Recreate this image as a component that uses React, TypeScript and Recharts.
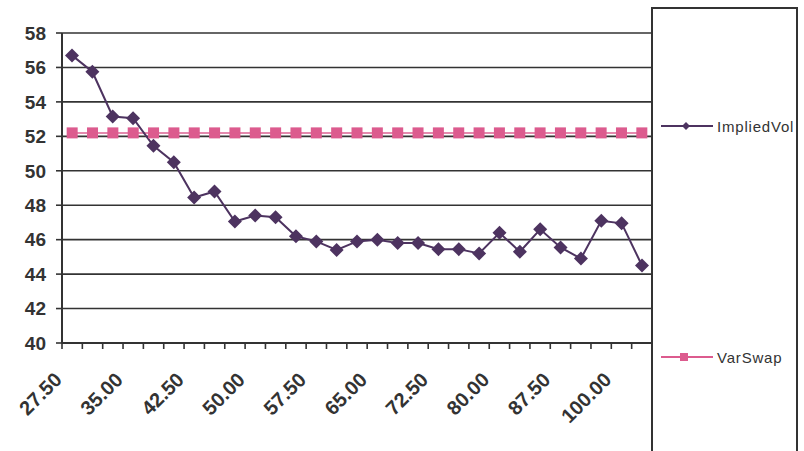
import { CartesianGrid, Line, LineChart, XAxis, YAxis } from "recharts";

const strikes = [
  "27.50", "30.00", "32.50", "35.00", "37.50", "40.00", "42.50", "45.00", "47.50", "50.00",
  "52.50", "55.00", "57.50", "60.00", "62.50", "65.00", "67.50", "70.00", "72.50", "75.00",
  "77.50", "80.00", "82.50", "85.00", "87.50", "90.00", "95.00", "100.00", "105.00",
];

const impliedVol = [
  56.7, 55.75, 53.15, 53.05, 51.45, 50.5, 48.45, 48.8, 47.05, 47.4,
  47.3, 46.2, 45.9, 45.4, 45.9, 46.0, 45.8, 45.8, 45.45, 45.45,
  45.2, 46.4, 45.3, 46.6, 45.55, 44.9, 47.1, 46.95, 44.5,
];

const varSwap = [
  52.2, 52.2, 52.2, 52.2, 52.2, 52.2, 52.2, 52.2, 52.2, 52.2,
  52.2, 52.2, 52.2, 52.2, 52.2, 52.2, 52.2, 52.2, 52.2, 52.2,
  52.2, 52.2, 52.2, 52.2, 52.2, 52.2, 52.2, 52.2, 52.2,
];

const yTicks = [40, 42, 44, 46, 48, 50, 52, 54, 56, 58];

const PURPLE = "#4d3360";
const PINK = "#dc5b8e";
const INK = "#333333";
const FONT = "Arial, 'Liberation Sans', sans-serif";

// idx puts each strike in the middle of its slot on the numeric axis
const rows = strikes.map((s, i) => ({
  strike: s,
  idx: i + 0.5,
  ImpliedVol: impliedVol[i],
  VarSwap: varSwap[i],
}));

// slot boundaries, used for the small tick marks under the x axis
const edges = strikes.map((_, i) => i).concat(strikes.length);

const Diamond = (props: any) => {
  const { cx, cy } = props;
  if (cx == null || cy == null) return null;
  const r = 7;
  return (
    <polygon
      points={`${cx},${cy - r} ${cx + r},${cy} ${cx},${cy + r} ${cx - r},${cy}`}
      fill={PURPLE}
    />
  );
};

const Square = (props: any) => {
  const { cx, cy } = props;
  if (cx == null || cy == null) return null;
  const r = 5.5;
  return <rect x={cx - r} y={cy - r} width={r * 2} height={r * 2} fill={PINK} />;
};

// short tick mark at each slot boundary, no text
const EdgeTick = ({ x, y }: any) => (
  <line x1={x} y1={y - 1} x2={x} y2={y + 5} stroke={INK} strokeWidth={1.6} />
);

const StrikeTick = ({ x, y, payload }: any) => (
  <text
    x={x - 9}
    y={y + 38}
    transform={`rotate(-45 ${x - 9} ${y + 38})`}
    textAnchor="end"
    fontFamily={FONT}
    fontWeight="bold"
    fontSize={20}
    fill={INK}
  >
    {payload.value}
  </text>
);

function LegendBox() {
  const items = [
    { name: "ImpliedVol", color: PURPLE, top: 124, shape: "diamond" },
    { name: "VarSwap", color: PINK, top: 355, shape: "square" },
  ];
  return (
    <div
      style={{
        position: "absolute",
        left: 651,
        top: 7,
        width: 143,
        height: 470,
        border: `2px solid ${INK}`,
        background: "#fff",
      }}
    >
      {items.map((it) => (
        <div
          key={it.name}
          style={{
            position: "absolute",
            left: 8,
            top: it.top - 7 - 10,
            height: 20,
            display: "flex",
            alignItems: "center",
          }}
        >
          <svg width={52} height={20}>
            <line x1={0} y1={10} x2={52} y2={10} stroke={it.color} strokeWidth={2} />
            {it.shape === "diamond" ? (
              <polygon points="25,6 29,10 25,14 21,10" fill={it.color} />
            ) : (
              <rect x={19} y={6} width={8} height={8} fill={it.color} />
            )}
          </svg>
          <span
            style={{
              marginLeft: 4,
              fontFamily: FONT,
              fontSize: 15,
              letterSpacing: 0.8,
              color: INK,
            }}
          >
            {it.name}
          </span>
        </div>
      ))}
    </div>
  );
}

export default function App() {
  return (
    <div style={{ position: "absolute", left: 0, top: 0, width: 804, height: 451, overflow: "hidden", background: "#fff" }}>
      <LineChart
        width={804}
        height={451}
        data={rows}
        margin={{ top: 33, right: 152, bottom: 0, left: 0 }}
      >
        <CartesianGrid vertical={false} stroke={INK} strokeWidth={1.6} />
        <XAxis
          dataKey="strike"
          interval={2}
          tick={<StrikeTick />}
          tickLine={false}
          tickSize={0}
          tickMargin={0}
          axisLine={{ stroke: INK, strokeWidth: 2 }}
          padding={{ left: 10, right: 10 }}
          height={1}
        />
        <XAxis
          xAxisId="edges"
          type="number"
          dataKey="idx"
          domain={[0, strikes.length]}
          ticks={edges}
          interval={0}
          tick={<EdgeTick />}
          tickSize={0}
          tickMargin={0}
          axisLine={false}
          tickLine={false}
          height={107}
          allowDataOverflow
        />
        <YAxis
          domain={[40, 58]}
          ticks={yTicks}
          width={62}
          tickSize={6}
          tickMargin={10}
          axisLine={{ stroke: INK, strokeWidth: 2 }}
          tickLine={{ stroke: INK, strokeWidth: 1.6 }}
          tick={{ fontFamily: FONT, fontWeight: "bold", fontSize: 19, fill: INK }}
        />
        <Line
          xAxisId="edges"
          dataKey="VarSwap"
          stroke="#e48aae"
          strokeWidth={2}
          dot={<Square />}
          isAnimationActive={false}
        />
        <Line
          dataKey="ImpliedVol"
          stroke={PURPLE}
          strokeWidth={2}
          dot={<Diamond />}
          isAnimationActive={false}
        />
      </LineChart>
      <LegendBox />
    </div>
  );
}
